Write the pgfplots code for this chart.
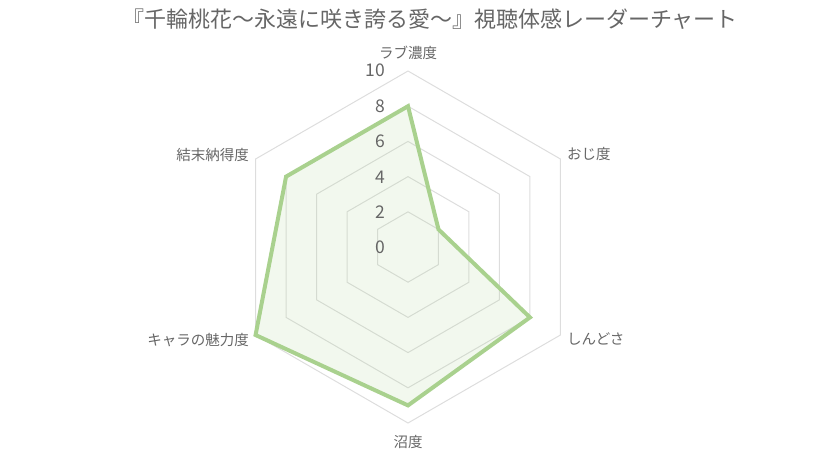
\documentclass[border=0pt]{standalone}
\usepackage{fontspec}
\setmainfont{Noto Sans CJK JP}
\usepackage{pgfplots}
\pgfplotsset{compat=1.18}
\usepgfplotslibrary{polar}

\definecolor{linegreen}{HTML}{A9D18E}
\definecolor{gridgray}{HTML}{DDDDDD}
\definecolor{txtgray}{HTML}{666666}

% radar values: angle (deg), score
\pgfplotstableread{
ang val
90  8
30  2
330 8
270 9
210 10
150 8
90  8
}\scores

\begin{document}
\begin{tikzpicture}
\path[use as bounding box] (0,0) rectangle (826pt,-456pt);
\begin{polaraxis}[
    at={(408pt,-247pt)}, anchor=origin,
    width=352pt, height=352pt, scale only axis,
    ymin=0, ymax=10,
    hide axis, clip=false,
]
% hexagonal grid
\addplot[gridgray, line width=1pt, mark=none] coordinates {(90,2) (30,2) (330,2) (270,2) (210,2) (150,2) (90,2)};
\addplot[gridgray, line width=1pt, mark=none] coordinates {(90,4) (30,4) (330,4) (270,4) (210,4) (150,4) (90,4)};
\addplot[gridgray, line width=1pt, mark=none] coordinates {(90,6) (30,6) (330,6) (270,6) (210,6) (150,6) (90,6)};
\addplot[gridgray, line width=1pt, mark=none] coordinates {(90,8) (30,8) (330,8) (270,8) (210,8) (150,8) (90,8)};
\addplot[gridgray, line width=1pt, mark=none] coordinates {(90,10) (30,10) (330,10) (270,10) (210,10) (150,10) (90,10)};
% data
\addplot[draw=none, fill=linegreen, fill opacity=0.15, mark=none] table[x=ang, y=val] {\scores};
\addplot[linegreen, line width=4pt, mark=none, line join=miter] table[x=ang, y=val] {\scores} -- cycle;
\end{polaraxis}

% title
\node[txtgray, inner sep=0pt, font=\fontsize{22}{26}\selectfont] at (430pt,-19pt) {『千輪桃花～永遠に咲き誇る愛～』視聴体感レーダーチャート};

% axis labels
\begin{scope}[every node/.style={txtgray, inner sep=0pt, font=\fontsize{14.5}{17}\selectfont}]
\node[anchor=center] at (408pt,-53pt) {ラブ濃度};
\node[anchor=west] at (567pt,-154pt) {おじ度};
\node[anchor=west] at (567pt,-339pt) {しんどさ};
\node[anchor=center] at (408pt,-442pt) {沼度};
\node[anchor=east] at (249pt,-155pt) {結末納得度};
\node[anchor=east] at (249pt,-340pt) {キャラの魅力度};
\end{scope}

% scale labels
\begin{scope}[every node/.style={txtgray, inner sep=0pt, anchor=east, font=\fontsize{17.5}{20}\selectfont}]
\node at (385pt,-247pt) {0};
\node at (385pt,-212pt) {2};
\node at (385pt,-177pt) {4};
\node at (385pt,-141pt) {6};
\node at (385pt,-106pt) {8};
\node at (385pt,-70pt) {10};
\end{scope}
\end{tikzpicture}
\end{document}
